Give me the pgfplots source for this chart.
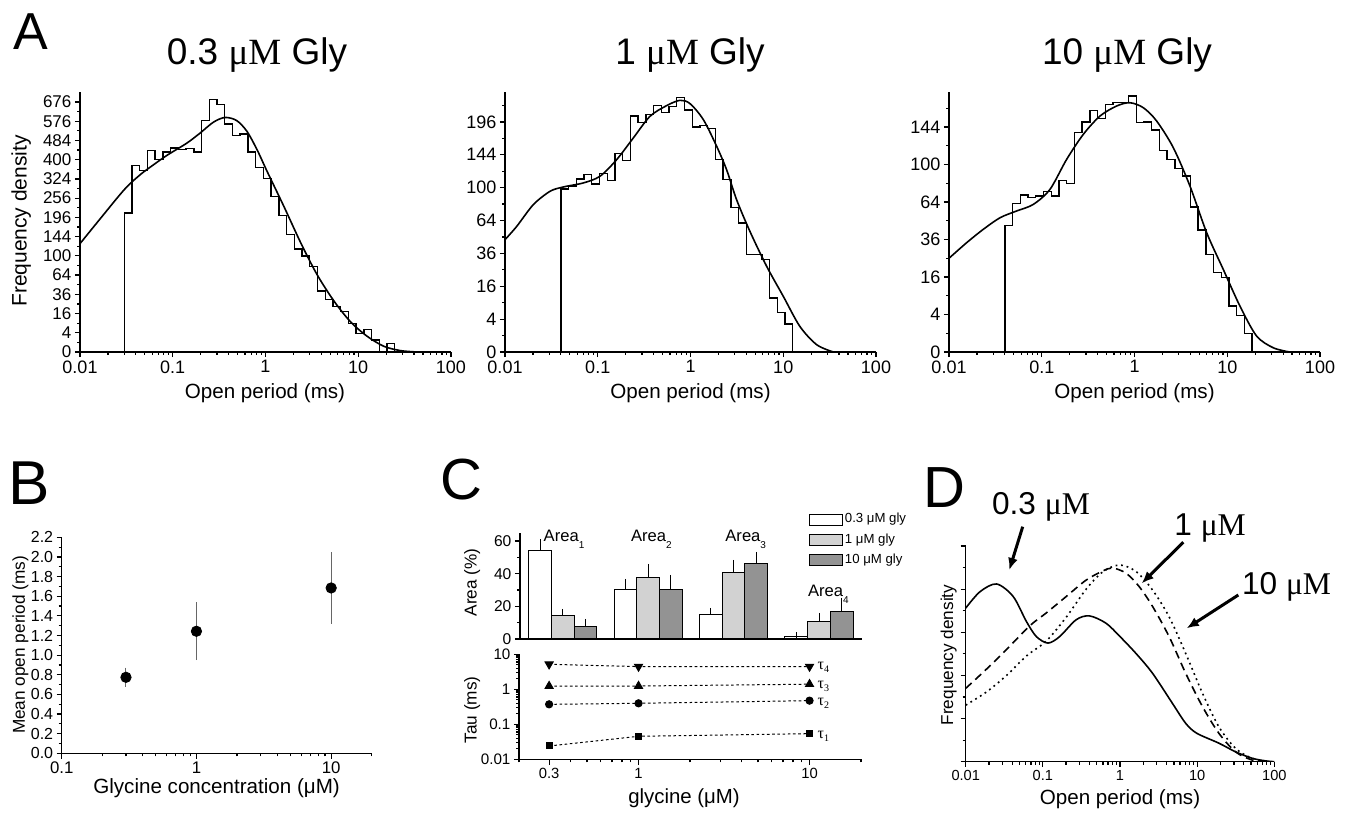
\documentclass[border=0pt]{standalone}
\usepackage{fontspec}
\setmainfont{Liberation Sans}
\newfontfamily\tms{Liberation Serif}
\usepackage{pgfplots}
\pgfplotsset{compat=1.18}
\usetikzlibrary{arrows.meta}
\newcommand\fs[1]{\fontsize{#1}{#1}\selectfont}

\pgfplotsset{
  /pgf/number format/assume math mode=true,
  every axis/.append style={scale only axis, axis lines=left,
    axis line style={-, line width=0.7pt},
    tick align=outside, major tick length=2.6pt, minor tick length=1.5pt,
    tick style={black, line width=0.6pt},
    tick label style={inner sep=1.5pt}},
}

\begin{document}
\begin{tikzpicture}
\path[use as bounding box] (0,0) rectangle (673.5pt,406.5pt);

% ---------------- A: histograms (square-root frequency axis) ----------------
\begin{axis}[anchor=south west, at={(40pt,230.5pt)}, width=185.5pt, height=130pt,
  xmode=log, xmin=0.01, xmax=100,
  xtick={0.01,0.1,1,10,100}, xticklabels={0.01,0.1,1,10,100},
  minor xtick={0.02,0.03,0.04,0.05,0.06,0.07,0.08,0.09,0.2,0.3,0.4,0.5,0.6,0.7,0.8,0.9,2,3,4,5,6,7,8,9,20,30,40,50,60,70,80,90},
  xticklabel style={font=\fs{9}},
  y filter/.expression={sqrt(y)}, ymin=0, ymax=27.04,
  ytick={0,2,4,6,8,10,12,14,16,18,20,22,24,26},
  yticklabels={0,4,16,36,64,100,144,196,256,324,400,484,576,676},
  minor ytick={1,3,5,7,9,11,13,15,17,19,21,23,25},
  yticklabel style={font=\fs{8.5}}]
\addplot[const plot, black, line width=0.7pt] coordinates {(0.03,0)(0.03,209)(0.03635,375)(0.04403,356)(0.05335,440)(0.06463,400)
  (0.07831,432)(0.09487,450)(0.1149,443)(0.1392,447)(0.1687,432)(0.2044,579)(0.2476,688)
  (0.3,661)(0.3635,562)(0.4403,508)(0.5335,514)(0.6463,432)(0.7831,369)(0.9487,325)
  (1.149,261)(1.392,202)(1.687,149)(2.044,115)(2.476,100)(3.0,79)(3.635,40)(4.403,30)
  (5.335,22.6)(6.463,17.9)(7.831,8.7)(9.487,3.6)(11.49,5.4)(13.92,1.6)(16.87,0)(20.44,0.75)(24.76,0)};
\addplot[smooth, black, line width=0.8pt] coordinates {(0.01,127)(0.0164,191)(0.03,285)(0.0446,340)(0.062,379)(0.0864,418)
  (0.142,472)(0.198,519)(0.276,572)(0.368,595)(0.49,579)(0.63,527)(0.81,443)(1.04,353)
  (1.58,229)(2.41,128)(3.6,64.7)(5.5,27.8)(8.3,9.7)(12.5,2.65)(18.9,0.35)(28.6,0.02)(43,0)};
\end{axis}

\begin{axis}[anchor=south west, at={(252.5pt,230.5pt)}, width=185.5pt, height=130pt,
  xmode=log, xmin=0.01, xmax=100,
  xtick={0.01,0.1,1,10,100}, xticklabels={0.01,0.1,1,10,100},
  minor xtick={0.02,0.03,0.04,0.05,0.06,0.07,0.08,0.09,0.2,0.3,0.4,0.5,0.6,0.7,0.8,0.9,2,3,4,5,6,7,8,9,20,30,40,50,60,70,80,90},
  xticklabel style={font=\fs{9}},
  y filter/.expression={sqrt(y)}, ymin=0, ymax=15.82,
  ytick={0,2,4,6,8,10,12,14}, yticklabels={0,4,16,36,64,100,144,196},
  minor ytick={1,3,5,7,9,11,13,15},
  yticklabel style={font=\fs{9}}]
\addplot[const plot, black, line width=0.7pt] coordinates {(0.04,0)(0.04,98.4)(0.04846,102)(0.05871,111)(0.07113,117)(0.08618,104.5)
  (0.1044,118)(0.1265,108.7)(0.1532,146)(0.1857,135.5)(0.2249,206)(0.2725,195)(0.3302,208.6)
  (0.4,224.7)(0.4846,212.7)(0.5871,223.5)(0.7113,240)(0.8618,217)(1.044,187.5)(1.265,190)
  (1.532,184.7)(1.857,137)(2.249,110)(2.725,77.5)(3.302,61.6)(4.0,35)(4.846,35)(5.871,31.6)
  (7.113,10.8)(8.618,5.8)(10.44,2.9)(12.65,0)};
\addplot[smooth, black, line width=0.8pt] coordinates {(0.01,46.7)(0.0134,58.5)(0.0202,80.4)(0.0306,95.6)(0.0425,100.8)
  (0.0698,105.8)(0.1056,114.3)(0.16,137)(0.2417,169.6)(0.366,205.7)(0.553,224.7)(0.77,234.5)
  (0.987,228.4)(1.374,200)(1.914,156.7)(2.45,123)(3.14,85.9)(4.37,53.9)(6.62,27.2)(10,11.5)
  (15.1,2.43)(22.9,0.2)(34.6,0)};
\end{axis}

\begin{axis}[anchor=south west, at={(474.5pt,230.5pt)}, width=185.5pt, height=130pt,
  xmode=log, xmin=0.01, xmax=100,
  xtick={0.01,0.1,1,10,100}, xticklabels={0.01,0.1,1,10,100},
  minor xtick={0.02,0.03,0.04,0.05,0.06,0.07,0.08,0.09,0.2,0.3,0.4,0.5,0.6,0.7,0.8,0.9,2,3,4,5,6,7,8,9,20,30,40,50,60,70,80,90},
  xticklabel style={font=\fs{9}},
  y filter/.expression={sqrt(y)}, ymin=0, ymax=13.87,
  ytick={0,2,4,6,8,10,12}, yticklabels={0,4,16,36,64,100,144},
  minor ytick={1,3,5,7,9,11,13},
  yticklabel style={font=\fs{9}}]
\addplot[const plot, black, line width=0.7pt] coordinates {(0.04,0)(0.04,45.6)(0.04846,62.6)(0.05871,70.1)(0.07113,67.7)(0.08618,69.2)
  (0.1044,73.1)(0.1265,69.2)(0.1532,83.8)(0.1857,80.9)(0.2249,136.9)(0.2725,150.5)(0.3302,166.1)
  (0.4,155.3)(0.4846,174.5)(0.5871,176.8)(0.7113,176.8)(0.8618,186.4)(1.044,149.6)(1.265,150.5)
  (1.532,140)(1.857,115.7)(2.249,105.6)(2.725,95.6)(3.302,88.1)(4.0,59.8)(4.846,42.3)(5.871,27.1)
  (7.113,17.9)(8.618,15.8)(10.44,6.0)(12.65,3.8)(15.32,0.96)(18.57,0)};
\addplot[smooth, black, line width=0.8pt] coordinates {(0.01,25)(0.0155,34)(0.0234,42.8)(0.0355,51.3)(0.0536,56.6)(0.0811,62)
  (0.1227,75.3)(0.1855,105.6)(0.2805,134.8)(0.4243,158.4)(0.6415,172.2)(0.893,176.8)(1.245,169.8)
  (1.733,151.8)(2.62,118.8)(3.96,78.4)(6.0,40.5)(9.06,19.4)(13.7,6.0)(20.7,0.73)(31.4,0.05)(47,0)};
\end{axis}

\node[anchor=base west, inner sep=0pt, font=\fs{26}] at (6.5pt,381.5pt) {A};
\node[anchor=base, inner sep=0pt, font=\fs{18.5}] at (128.5pt,374pt) {0.3 {\tms μM} Gly};
\node[anchor=base, inner sep=0pt, font=\fs{18.5}] at (345pt,374pt) {1 {\tms μM} Gly};
\node[anchor=base, inner sep=0pt, font=\fs{18.5}] at (563.5pt,374pt) {10 {\tms μM} Gly};
\node[anchor=base, rotate=90, inner sep=0pt, font=\fs{10.5}] at (13.35pt,296pt) {Frequency density};
\node[anchor=base, inner sep=0pt, font=\fs{10.3}] at (132.5pt,207pt) {Open period (ms)};
\node[anchor=base, inner sep=0pt, font=\fs{10.3}] at (345.25pt,207pt) {Open period (ms)};
\node[anchor=base, inner sep=0pt, font=\fs{10.3}] at (567.25pt,207pt) {Open period (ms)};

% ---------------- B: mean open period ----------------
\begin{axis}[anchor=south west, at={(30.85pt,29.85pt)}, width=155pt, height=108pt,
  xmode=log, xmin=0.1, xmax=20, ymin=0, ymax=2.2,
  xtick={0.1,1,10}, xticklabels={0.1,1,10},
  minor xtick={0.2,0.3,0.4,0.5,0.6,0.7,0.8,0.9,2,3,4,5,6,7,8,9,20},
  ytick={0,0.2,0.4,0.6,0.8,1.0,1.2,1.4,1.6,1.8,2.0,2.2},
  yticklabels={0.0,0.2,0.4,0.6,0.8,1.0,1.2,1.4,1.6,1.8,2.0,2.2},
  minor ytick={0.1,0.3,0.5,0.7,0.9,1.1,1.3,1.5,1.7,1.9,2.1},
  xticklabel style={font=\fs{8.4}}, yticklabel style={font=\fs{8}}]
\addplot[only marks, mark=*, mark size=2.6pt, black,
  error bars/.cd, y dir=both, y explicit,
  error bar style={gray!80!black, line width=0.5pt},
  error mark options={gray!80!black, mark size=1.6pt, line width=0.5pt}]
  coordinates {(0.3,0.774) +- (0,0.065) (1,1.243) +- (0,0.262) (10,1.684) +- (0,0.332)};
\end{axis}
\node[anchor=base west, inner sep=0pt, font=\fs{31}] at (4pt,154pt) {B};
\node[anchor=base, rotate=90, inner sep=0pt, font=\fs{8.6}] at (12.5pt,84pt) {Mean open period (ms)};
\node[anchor=base, inner sep=0pt, font=\fs{10.3}] at (108.3pt,9.85pt) {Glycine concentration (μM)};

% ---------------- C: areas and time constants ----------------
\begin{axis}[anchor=south west, at={(260pt,87pt)}, width=170.85pt, height=53.1pt,
  xmin=0.5, xmax=4.5, ymin=0, ymax=65, xtick=\empty,
  ytick={0,20,40,60}, minor ytick={10,30,50},
  yticklabel style={font=\fs{7.8}},
  ybar=0pt, bar width=11.35pt,
  error bars/y dir=plus, error bars/y explicit,
  error bars/error mark options={black, mark size=1.7pt, line width=0.5pt},
  legend image code/.code={\draw[#1, line width=0.5pt] (0pt,-2.75pt) rectangle (16.3pt,2.75pt);},
  legend cell align=left,
  legend style={at={(axis description cs:0.828,1.243)}, anchor=north west, draw=none, fill=none,
    font=\fs{6.6}, row sep=1.8pt, nodes={inner sep=1pt}}]
\addplot[draw=black, line width=0.5pt, fill=white]
  coordinates {(1,54.1) +- (0,4.9) (2,30.0) +- (0,4.7) (3,15.1) +- (0,1.8) (4,1.6) +- (0,0.4)};
\addlegendentry{0.3 μM gly}
\addplot[draw=black, line width=0.5pt, fill=gray!35]
  coordinates {(1,14.3) +- (0,2.0) (2,37.8) +- (0,6.1) (3,40.6) +- (0,5.7) (4,10.6) +- (0,3.3)};
\addlegendentry{1 μM gly}
\addplot[draw=black, line width=0.5pt, fill=gray!85]
  coordinates {(1,7.8) +- (0,2.4) (2,30.2) +- (0,6.9) (3,46.1) +- (0,5.1) (4,17.1) +- (0,6.2)};
\addlegendentry{10 μM gly}
\end{axis}

\begin{axis}[anchor=south west, at={(259.5pt,26.85pt)}, width=171pt, height=52.5pt,
  xmode=log, ymode=log, xmin=0.2, xmax=20, ymin=0.01, ymax=10,
  xtick={0.3,1,10}, xticklabels={0.3,1,10},
  minor xtick={0.2,0.4,0.5,0.6,0.7,0.8,0.9,2,3,4,5,6,7,8,9,20},
  ytick={0.01,0.1,1,10}, yticklabels={0.01,0.1,1,10},
  minor ytick={0.02,0.03,0.04,0.05,0.06,0.07,0.08,0.09,0.2,0.3,0.4,0.5,0.6,0.7,0.8,0.9,2,3,4,5,6,7,8,9},
  xticklabel style={font=\fs{7.4}}, yticklabel style={font=\fs{7.6}}]
\addplot[black, line width=0.5pt, dash pattern=on 1.3pt off 1.3pt, mark=triangle*, mark size=2.3pt,
  mark options={solid, rotate=180}] coordinates {(0.3,5.18)(1,4.45)(10,4.45)};
\addplot[black, line width=0.5pt, dash pattern=on 1.3pt off 1.3pt, mark=triangle*, mark size=2.3pt,
  mark options={solid}] coordinates {(0.3,1.24)(1,1.24)(10,1.4)};
\addplot[black, line width=0.5pt, dash pattern=on 1.3pt off 1.3pt, mark=*, mark size=1.8pt,
  mark options={solid}] coordinates {(0.3,0.372)(1,0.398)(10,0.474)};
\addplot[black, line width=0.5pt, dash pattern=on 1.3pt off 1.3pt, mark=square*, mark size=1.5pt,
  mark options={solid}] coordinates {(0.3,0.024)(1,0.0454)(10,0.054)};
\end{axis}

\node[anchor=base west, inner sep=0pt, font=\fs{29}] at (220pt,156.5pt) {C};
\node[anchor=base, rotate=90, inner sep=0pt, font=\fs{8.6}] at (238.3pt,115.3pt) {Area (\%)};
\node[anchor=base, rotate=90, inner sep=0pt, font=\fs{8.6}] at (238.3pt,51.5pt) {Tau (ms)};
\node[anchor=base, inner sep=0pt, font=\fs{10.2}] at (342pt,4.85pt) {glycine (μM)};
\node[anchor=base west, inner sep=0pt, font=\fs{8.3}] at (271.65pt,135.65pt) {Area\raisebox{-3.3pt}{\fs{5}1}};
\node[anchor=base west, inner sep=0pt, font=\fs{8.3}] at (315.35pt,135.65pt) {Area\raisebox{-3.3pt}{\fs{5}2}};
\node[anchor=base west, inner sep=0pt, font=\fs{8.3}] at (362.5pt,135.65pt) {Area\raisebox{-3.3pt}{\fs{5}3}};
\node[anchor=base west, inner sep=0pt, font=\fs{8.3}] at (403.85pt,108.15pt) {Area\raisebox{-3.3pt}{\fs{5}4}};
\node[anchor=base west, inner sep=0pt, font=\fs{8}] at (408.65pt,71.85pt) {\tms τ\raisebox{-1.5pt}{\fs{5}4}};
\node[anchor=base west, inner sep=0pt, font=\fs{8}] at (408.65pt,62.35pt) {\tms τ\raisebox{-1.5pt}{\fs{5}3}};
\node[anchor=base west, inner sep=0pt, font=\fs{8}] at (408.65pt,53.65pt) {\tms τ\raisebox{-1.5pt}{\fs{5}2}};
\node[anchor=base west, inner sep=0pt, font=\fs{8}] at (408.65pt,37.35pt) {\tms τ\raisebox{-1.5pt}{\fs{5}1}};

% ---------------- D: fitted densities ----------------
\begin{axis}[anchor=south west, at={(482.85pt,25.65pt)}, width=154.3pt, height=107.85pt,
  xmode=log, xmin=0.01, xmax=100,
  xtick={0.01,0.1,1,10,100}, xticklabels={0.01,0.1,1,10,100},
  minor xtick={0.02,0.03,0.04,0.05,0.06,0.07,0.08,0.09,0.2,0.3,0.4,0.5,0.6,0.7,0.8,0.9,2,3,4,5,6,7,8,9,20,30,40,50,60,70,80,90},
  ymin=0, ymax=5, ytick={0,1,2,3,4,5}, yticklabels={},
  minor ytick={0.5,1.5,2.5,3.5,4.5},
  xticklabel style={font=\fs{7.3}}]
\addplot[smooth, black, line width=0.8pt] coordinates {(0.01,3.56)(0.0153,3.94)(0.0251,4.12)(0.0412,3.83)
  (0.0612,3.25)(0.0824,2.9)(0.1166,2.75)(0.165,2.9)(0.27,3.29)(0.402,3.38)(0.659,3.21)(1.0,2.9)
  (1.61,2.51)(2.64,2.05)(4.79,1.35)(7.1,0.89)(9.87,0.66)(19.1,0.43)(31.4,0.23)(51.5,0.08)(76.5,0.02)(100,0)};
\addplot[smooth, black, line width=0.8pt, dash pattern=on 4pt off 2.5pt] coordinates {(0.01,1.70)(0.0187,2.15)
  (0.0338,2.6)(0.0676,3.15)(0.111,3.45)(0.201,3.83)(0.364,4.21)(0.597,4.42)(0.80,4.49)(1.195,4.37)
  (1.77,4.06)(2.64,3.6)(4.33,2.9)(7.1,2.05)(11.7,1.28)(19.1,0.66)(31.4,0.23)(51.5,0.04)(84.5,0)};
\addplot[smooth, black, line width=0.8pt, dash pattern=on 0.9pt off 1.9pt] coordinates {(0.01,1.31)(0.0187,1.62)
  (0.0338,2.0)(0.0612,2.45)(0.111,2.8)(0.201,3.35)(0.364,4.0)(0.597,4.4)(0.982,4.56)(1.61,4.41)
  (2.64,3.98)(4.33,3.36)(7.1,2.51)(11.7,1.59)(19.1,0.81)(31.4,0.31)(51.5,0.08)(84.5,0)};
\end{axis}
\node[anchor=base west, inner sep=0pt, font=\fs{29}] at (461.5pt,152.5pt) {D};
\node[anchor=base, rotate=90, inner sep=0pt, font=\fs{8.6}] at (476.5pt,79pt) {Frequency density};
\node[anchor=base, inner sep=0pt, font=\fs{10.3}] at (560pt,4.35pt) {Open period (ms)};
\node[anchor=base west, inner sep=0pt, font=\fs{15.8}] at (495.85pt,149.35pt) {0.3 {\tms μM}};
\node[anchor=base west, inner sep=0pt, font=\fs{15.8}] at (587pt,138.5pt) {1 {\tms μM}};
\node[anchor=base west, inner sep=0pt, font=\fs{15.8}] at (620.85pt,109.35pt) {10 {\tms μM}};
\draw[line width=1.5pt, -{Latex[length=6pt,width=5pt]}] (511.35pt,143.15pt) -- (504.65pt,121.5pt);
\draw[line width=1.5pt, -{Latex[length=6pt,width=5pt]}] (591.65pt,135.35pt) -- (570.85pt,114.85pt);
\draw[line width=1.5pt, -{Latex[length=6pt,width=5pt]}] (619.15pt,109pt) -- (593.35pt,92.35pt);
\end{tikzpicture}
\end{document}
